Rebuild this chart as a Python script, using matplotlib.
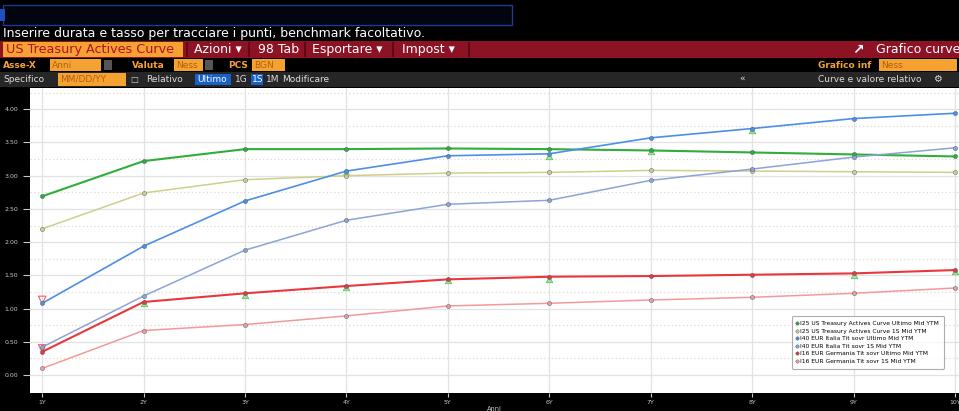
import numpy as np
import matplotlib
matplotlib.use("Agg")
import matplotlib.pyplot as plt
from matplotlib.patches import Rectangle

# tenors and yields
tenors = [1, 2, 3, 4, 5, 6, 7, 8, 9, 10]
tenor_labels = ["1Y", "2Y", "3Y", "4Y", "5Y", "6Y", "7Y", "8Y", "9Y", "10Y"]

us_last = [2.69, 3.22, 3.40, 3.40, 3.41, 3.40, 3.38, 3.35, 3.32, 3.29]
us_1w = [2.20, 2.74, 2.94, 3.00, 3.04, 3.05, 3.08, 3.07, 3.06, 3.05]
it_last = [1.08, 1.94, 2.62, 3.07, 3.30, 3.33, 3.57, 3.71, 3.86, 3.94]
it_1w = [0.42, 1.19, 1.88, 2.33, 2.57, 2.63, 2.93, 3.10, 3.28, 3.42]
de_last = [0.35, 1.10, 1.23, 1.34, 1.44, 1.48, 1.49, 1.51, 1.53, 1.58]
de_1w = [0.10, 0.67, 0.76, 0.89, 1.04, 1.08, 1.13, 1.17, 1.23, 1.31]

# relative value markers (green triangles)
rv_x = [2, 3, 4, 5, 6, 9, 10, 4, 6, 8, 7]
rv_y = [1.09, 1.21, 1.32, 1.43, 1.45, 1.51, 1.56, 3.05, 3.30, 3.69, 3.37]

legend_labels = [
    "I25 US Treasury Actives Curve Ultimo Mid YTM",
    "I25 US Treasury Actives Curve 1S Mid YTM",
    "I40 EUR Italia Tit sovr Ultimo Mid YTM",
    "I40 EUR Italia Tit sovr 1S Mid YTM",
    "I16 EUR Germania Tit sovr Ultimo Mid YTM",
    "I16 EUR Germania Tit sovr 1S Mid YTM",
]
colors = ["#2fae3a", "#cfcf8c", "#4d8fe6", "#8ca4d6", "#e8383c", "#f29a9a"]
widths = [1.5, 1.1, 1.2, 1.1, 1.5, 1.1]

W, H = 959, 411
fig = plt.figure(figsize=(W / 100, H / 100), dpi=100)
fig.patch.set_facecolor("black")


def fx(x):
    return x / W


def fy(y):
    return 1 - y / H


def box(x0, y0, x1, y1, color, ec="none", lw=0):
    fig.patches.append(Rectangle((fx(x0), fy(y1)), (x1 - x0) / W, (y1 - y0) / H,
                                 transform=fig.transFigure, facecolor=color,
                                 edgecolor=ec, linewidth=lw))


def txt(x, y, s, color="white", size=9, **kw):
    fig.text(fx(x), fy(y), s, color=color, fontsize=size, va="center", **kw)


# header
box(3, 5, 512, 25, "#02040f", ec="#1c3c90", lw=1)
box(0, 9, 5, 21, "#2050c0")
txt(3, 33, "Inserire durata e tasso per tracciare i punti, benchmark facoltativo.", size=9)

box(0, 41, W, 58, "#8c1224")
box(3, 42, 183, 57, "#f5a232")
txt(6, 49.5, "US Treasury Actives Curve", color="#b0102a", size=9.2)
for x0 in [186, 248, 304, 392, 468]:
    box(x0, 42, x0 + 1.5, 57, "#5a0a16")
txt(194, 49.5, "Azioni \u25be", size=9)
txt(258, 49.5, "98 Tab", size=9)
txt(312, 49.5, "Esportare \u25be", size=9)
txt(402, 49.5, "Impost \u25be", size=9)
txt(852, 49.5, "\u2197", size=10, weight="bold")
txt(876, 49.5, "Grafico curve", size=9)

box(0, 58, W, 72, "black")
txt(3, 65, "Asse-X", color="#f5a232", size=6.5, weight="bold")
box(50, 59, 101, 71, "#f5a232")
txt(52, 65, "Anni", color="#b06010", size=6.5)
box(104, 60, 112, 70, "#555555")
txt(132, 65, "Valuta", color="#f5a232", size=6.5, weight="bold")
box(174, 59, 203, 71, "#f5a232")
txt(176, 65, "Ness", color="#b06010", size=6.5)
box(205, 60, 213, 70, "#555555")
txt(228, 65, "PCS", color="#f5a232", size=6.5, weight="bold")
box(252, 59, 285, 71, "#f5a232")
txt(254, 65, "BGN", color="#b06010", size=6.5)
txt(818, 65, "Grafico inf", color="#f5a232", size=6.5, weight="bold")
box(879, 59, 957, 71, "#f5a232")
txt(881, 65, "Ness", color="#b06010", size=6.5)

box(0, 72, W, 87, "#262626")
txt(3, 79.5, "Specifico", color="#dddddd", size=6.5)
box(58, 73, 126, 86, "#f5a232")
txt(60, 79.5, "MM/DD/YY", color="#b06010", size=6.5)
txt(130, 79.5, "\u25a1", color="#cccccc", size=6)
txt(146, 79.5, "Relativo", color="#dddddd", size=6.5)
box(195, 74, 231, 85, "#1860c8")
txt(197, 79.5, "Ultimo", color="white", size=6.5)
txt(235, 79.5, "1G", color="#dddddd", size=6.5)
box(251, 74, 263, 85, "#1860c8")
txt(252, 79.5, "1S", color="white", size=6.5)
txt(266, 79.5, "1M", color="#dddddd", size=6.5)
txt(282, 79.5, "Modificare", color="#dddddd", size=6.5)
txt(739, 79.5, "\u00ab", color="#dddddd", size=6.5)
txt(818, 79.5, "Curve e valore relativo", color="#dddddd", size=6.5)
txt(933, 79.5, "\u2699", color="#dddddd", size=7)

# chart
ax = fig.add_axes([fx(30), fy(393), (W - 30) / W, (393 - 88) / H])
ax.set_facecolor("white")
ax.set_xlim(0.88, 10.04)
ax.set_ylim(-0.27, 4.32)

for v in np.arange(0.25, 4.3, 0.5):
    ax.axhline(v, color="#e0d8c8", lw=0.9, ls=(0, (1, 2)), zorder=1)
ax.grid(True, color="#e2e2e2", lw=0.9, zorder=1)

series = [us_last, us_1w, it_last, it_1w, de_last, de_1w]
for vals, c, lw, lab in zip(series, colors, widths, legend_labels):
    ax.plot(tenors, vals, color=c, lw=lw, marker="o", ms=3.0,
            mfc=c, mec="#445566", mew=0.3, label=lab, zorder=3)

ax.scatter(rv_x, rv_y, marker="^", s=22, color="#9be39b", edgecolor="#50c050",
           linewidth=0.5, zorder=2)
ax.scatter([1, 1], [1.13, 0.40], marker="v", s=30, facecolor="none",
           edgecolor="#f06060", linewidth=0.8, zorder=2)

ax.set_yticks(np.arange(0, 4.01, 0.5))
ax.set_yticklabels(["%.2f" % v for v in np.arange(0, 4.01, 0.5)])
ax.set_xticks(tenors)
ax.set_xticklabels(tenor_labels)
ax.tick_params(axis="both", colors="#c8c8c8", labelsize=4.5, length=5, width=0.8,
               direction="out")
ax.tick_params(axis="x", length=3, pad=2)
ax.set_xlabel("Anni", color="#c8c8c8", fontsize=4.8, labelpad=1)
for s in ax.spines.values():
    s.set_visible(False)

leg = ax.legend(loc="lower right", bbox_to_anchor=(0.987, 0.07), fontsize=4.3,
                frameon=True, handlelength=0, handletextpad=0.6, markerscale=0.8,
                borderpad=0.8, labelspacing=0.4)
leg.get_frame().set_edgecolor("#999999")
leg.get_frame().set_linewidth(0.8)
for h in leg.legend_handles:
    h.set_linestyle("none")

fig.savefig("out.png", dpi=100, facecolor=fig.get_facecolor())
